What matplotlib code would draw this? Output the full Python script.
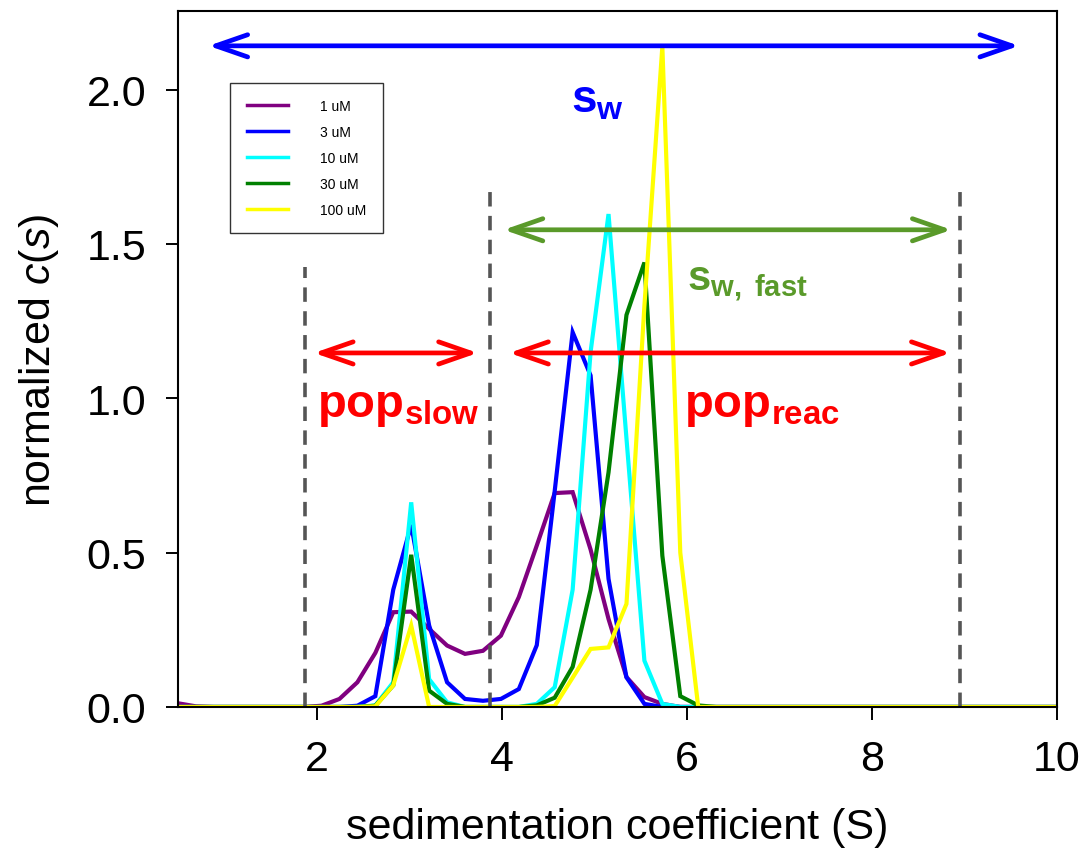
import numpy as np
import matplotlib
matplotlib.use('Agg')
import matplotlib.pyplot as plt

# sedimentation coefficient grid (S), 50 points from 0.5 to 10
s_grid = np.linspace(0.5, 10, 50)

# normalized c(s), one list per concentration (index 0..49)
c_1uM = [0.012, 0.002, 0, 0, 0, 0, 0, 0, 0.004, 0.026,
         0.08, 0.175, 0.307, 0.309, 0.253, 0.199, 0.172, 0.182, 0.231, 0.356,
         0.523, 0.693, 0.696, 0.51, 0.285, 0.097, 0.032, 0.01, 0, 0,
         0, 0, 0, 0, 0, 0, 0, 0, 0, 0,
         0, 0, 0, 0, 0, 0, 0, 0, 0, 0]
c_3uM = [0, 0, 0, 0, 0, 0, 0, 0, 0, 0,
         0.004, 0.035, 0.38, 0.59, 0.264, 0.08, 0.026, 0.02, 0.026, 0.058,
         0.2, 0.70, 1.214, 1.074, 0.415, 0.096, 0.01, 0, 0, 0,
         0, 0, 0, 0, 0, 0, 0, 0, 0, 0,
         0, 0, 0, 0, 0, 0, 0, 0, 0, 0]
c_10uM = [0, 0, 0, 0, 0, 0, 0, 0, 0, 0,
          0, 0.005, 0.08, 0.663, 0.09, 0.015, 0, 0, 0, 0,
          0.01, 0.064, 0.38, 1.15, 1.597, 0.87, 0.15, 0.01, 0, 0,
          0, 0, 0, 0, 0, 0, 0, 0, 0, 0,
          0, 0, 0, 0, 0, 0, 0, 0, 0, 0]
c_30uM = [0, 0, 0, 0, 0, 0, 0, 0, 0, 0,
          0, 0.004, 0.07, 0.493, 0.053, 0.01, 0, 0, 0, 0,
          0.005, 0.03, 0.13, 0.38, 0.76, 1.27, 1.44, 0.49, 0.035, 0.005,
          0, 0, 0, 0, 0, 0, 0, 0, 0, 0,
          0, 0, 0, 0, 0, 0, 0, 0, 0, 0]
c_100uM = [0, 0, 0, 0, 0, 0, 0, 0, 0, 0,
           0, 0.002, 0.07, 0.264, 0, 0, 0, 0, 0, 0,
           0, 0.003, 0.095, 0.188, 0.193, 0.334, 1.30, 2.14, 0.50, 0,
           0, 0, 0, 0, 0, 0, 0, 0, 0, 0,
           0, 0, 0, 0, 0, 0, 0, 0, 0, 0]

series = [c_1uM, c_3uM, c_10uM, c_30uM, c_100uM]
labels = ['1 uM', '3 uM', '10 uM', '30 uM', '100 uM']
colors = ['#800080', '#0000ff', '#00ffff', '#008000', '#ffff00']

# dashed boundaries (x, top)
cut_x = [1.87, 3.87, 8.95]
cut_top = [1.425, 1.69, 1.69]

plt.rcParams['font.family'] = ['Liberation Sans', 'DejaVu Sans']
plt.rcParams['mathtext.fontset'] = 'custom'
plt.rcParams['mathtext.rm'] = 'Liberation Sans'
plt.rcParams['mathtext.it'] = 'Liberation Sans:italic'
plt.rcParams['mathtext.bf'] = 'Liberation Sans:bold'

fig = plt.figure(figsize=(10.82, 8.54), dpi=100)
ax = fig.add_axes([0.1645, 0.171, 0.8124, 0.815])

for vals, lab, col in zip(series, labels, colors):
    ax.plot(s_grid, vals, color=col, lw=3.0, label=lab, solid_joinstyle='miter')

for x, top in zip(cut_x, cut_top):
    ax.plot([x, x], [0, top], color='#555555', lw=2.6, ls=(0, (4, 2.6)))

def arrow(x0, x1, y, col):
    ax.annotate('', xy=(x1, y), xytext=(x0, y),
                arrowprops=dict(arrowstyle='<->,head_length=1.15,head_width=0.4',
                                color=col, lw=3.4, mutation_scale=20,
                                shrinkA=0, shrinkB=0))

arrow(0.83, 9.59, 2.142, '#0000ff')
arrow(4.02, 8.86, 1.546, '#5a9a2a')
arrow(1.97, 3.74, 1.147, '#ff0000')
arrow(4.08, 8.85, 1.147, '#ff0000')

ax.text(4.75, 1.93, r'$\mathbf{s}_{\mathbf{w}}$', color='#0000ff', fontsize=33)
ax.text(6.0, 1.355, r'$\mathbf{s}_{\mathbf{w,\ fast}}$', color='#5a9a2a', fontsize=30)
ax.text(2.0, 0.943, r'$\mathbf{pop}_{\mathbf{slow}}$', color='#ff0000', fontsize=34)
ax.text(5.97, 0.943, r'$\mathbf{pop}_{\mathbf{reac}}$', color='#ff0000', fontsize=34)

ax.set_xlim(0.5, 10)
ax.set_ylim(0, 2.255)
ax.set_xticks([2, 4, 6, 8, 10])
ax.set_yticks([0, 0.5, 1.0, 1.5, 2.0])
ax.set_yticklabels(['0.0', '0.5', '1.0', '1.5', '2.0'])
ax.tick_params(direction='out', length=9, width=1.4, labelsize=31, pad=14)
for sp in ax.spines.values():
    sp.set_linewidth(1.5)

ax.set_xlabel('sedimentation coefficient (S)', fontsize=31, labelpad=20)
ax.set_ylabel(r'normalized $c$($s$)', fontsize=31, labelpad=18)

leg = ax.legend(loc='upper left', bbox_to_anchor=(0.059, 0.897), borderaxespad=0,
                fontsize=10, frameon=True, fancybox=False, edgecolor='black',
                handlelength=3.0, handletextpad=2.3, labelspacing=0.85,
                borderpad=1.2)
leg.get_frame().set_linewidth(1.0)
for h in leg.get_lines():
    h.set_linewidth(2.5)

fig.savefig('out.png', dpi=100)
